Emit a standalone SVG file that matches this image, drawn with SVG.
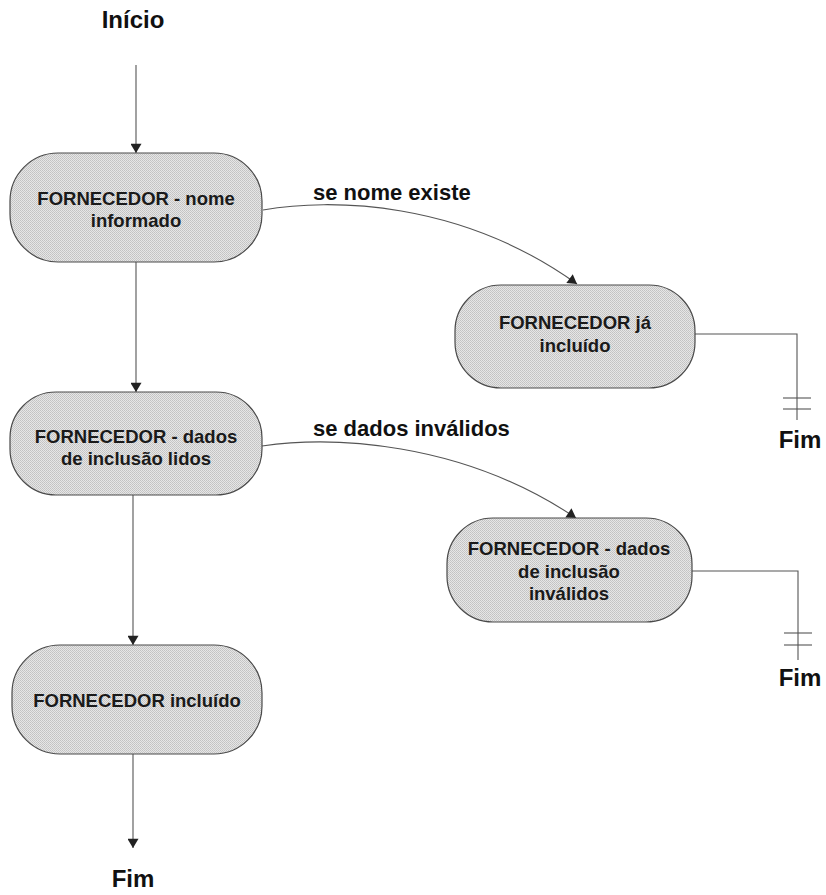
<svg xmlns="http://www.w3.org/2000/svg" width="826" height="895" viewBox="0 0 826 895">
  <style>
    .node { fill: url(#stipple); stroke: #4a4a4a; stroke-width: 1.2; }
    .ntext { font-family: "Liberation Sans", Arial, sans-serif; font-weight: bold; font-size: 18.5px; fill: #1a1a1a; text-anchor: middle; }
    .term { font-family: "Liberation Sans", Arial, sans-serif; font-weight: bold; font-size: 24px; fill: #111; text-anchor: middle; }
    .label { font-family: "Liberation Sans", Arial, sans-serif; font-weight: bold; font-size: 22px; fill: #111; }
    .edge { fill: none; stroke: #555; stroke-width: 1.1; }
  </style>
  <defs>
    <!-- halftone-like grey fill for the state boxes -->
    <pattern id="stipple" width="2" height="2" patternUnits="userSpaceOnUse">
      <rect width="2" height="2" fill="#e6e6e6"/>
      <rect width="1" height="1" fill="#c2c2c2"/>
      <rect x="1" y="1" width="1" height="1" fill="#c8c8c8"/>
    </pattern>
    <marker id="arrow" viewBox="0 0 10 12" refX="10" refY="6" markerWidth="10" markerHeight="11" markerUnits="userSpaceOnUse" orient="auto">
      <path d="M0,0 L10,6 L0,12 Z" fill="#222"/>
    </marker>
  </defs>
  <rect width="826" height="895" fill="#ffffff"/>

  <!-- terminal labels -->
  <text class="term" x="133" y="28">Início</text>
  <text class="term" x="800" y="448">Fim</text>
  <text class="term" x="800" y="686">Fim</text>
  <text class="term" x="133" y="887">Fim</text>

  <!-- connectors -->
  <g id="connectors">
    <line class="edge" x1="136" y1="65" x2="136" y2="153" marker-end="url(#arrow)"/>
    <line class="edge" x1="136" y1="262" x2="136" y2="392" marker-end="url(#arrow)"/>
    <line class="edge" x1="133" y1="495" x2="133" y2="645" marker-end="url(#arrow)"/>
    <line class="edge" x1="133" y1="754" x2="133" y2="848" marker-end="url(#arrow)"/>
    <path class="edge" d="M263,210 C330,198 460,200 577,284" marker-end="url(#arrow)"/>
    <path class="edge" d="M262,446 C330,436 460,440 576,518" marker-end="url(#arrow)"/>
    <polyline class="edge" points="695,334 797,334 797,420"/>
    <line class="edge" x1="783" y1="398" x2="811" y2="398"/>
    <line class="edge" x1="783" y1="409" x2="811" y2="409"/>
    <polyline class="edge" points="692,571 798,571 798,660"/>
    <line class="edge" x1="784" y1="633" x2="812" y2="633"/>
    <line class="edge" x1="784" y1="645" x2="812" y2="645"/>
    <text class="label" x="313" y="200">se nome existe</text>
    <text class="label" x="313" y="436">se dados inválidos</text>
  </g>

  <!-- nodes -->
  <g id="n-nome-informado">
    <rect class="node" x="10" y="153" width="252" height="109" rx="48" ry="48"/>
    <text class="ntext" x="136" y="205">FORNECEDOR - nome</text>
    <text class="ntext" x="136" y="227">informado</text>
  </g>
  <g id="n-ja-incluido">
    <rect class="node" x="455" y="285" width="240" height="103" rx="46" ry="46"/>
    <text class="ntext" x="575" y="329">FORNECEDOR já</text>
    <text class="ntext" x="575" y="352">incluído</text>
  </g>
  <g id="n-dados-lidos">
    <rect class="node" x="10" y="392" width="252" height="103" rx="46" ry="46"/>
    <text class="ntext" x="136" y="443">FORNECEDOR - dados</text>
    <text class="ntext" x="136" y="465">de inclusão lidos</text>
  </g>
  <g id="n-dados-invalidos">
    <rect class="node" x="447" y="518" width="245" height="104" rx="46" ry="46"/>
    <text class="ntext" x="569" y="555">FORNECEDOR - dados</text>
    <text class="ntext" x="569" y="578">de inclusão</text>
    <text class="ntext" x="569" y="600">inválidos</text>
  </g>
  <g id="n-incluido">
    <rect class="node" x="12" y="645" width="250" height="109" rx="48" ry="48"/>
    <text class="ntext" x="137" y="707">FORNECEDOR incluído</text>
  </g>
</svg>
